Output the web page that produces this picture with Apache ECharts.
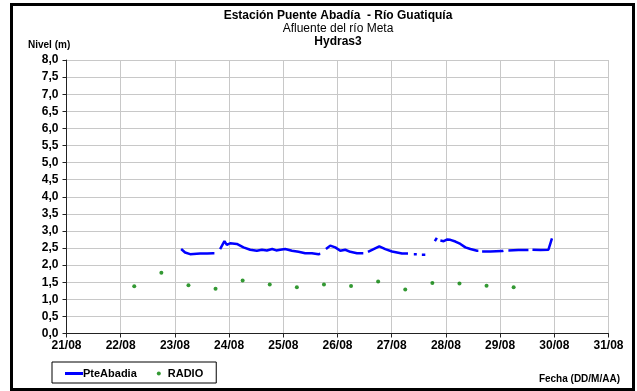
<!DOCTYPE html>
<html>
<head>
<meta charset="utf-8">
<script src="https://cdn.jsdelivr.net/npm/echarts@6/dist/echarts.min.js"></script>
<style>
  html, body { margin: 0; padding: 0; background: #fff; }
  #chart { width: 637px; height: 391px; }
</style>
</head>
<body>
<div id="chart"></div>
<script>
// fechas en dias decimales de agosto (21 = 21/08 00:00)
const xTicks = [21, 22, 23, 24, 25, 26, 27, 28, 29, 30, 31]

// PteAbadia: nivel (m), '-' = sin dato (corte de linea)
const levelDays = [
  23.115, 23.188, 23.281, 23.465, 23.595, 23.711, 23.729, 23.78,
  23.834, 23.914, 23.958, 24.019, 24.143, 24.265, 24.389, 24.512, 24.605, 24.697,
  24.795, 24.87, 24.943, 25.035, 25.159, 25.281, 25.404, 25.528, 25.650, 25.682, 25.73,
  25.787, 25.866, 25.959, 26.051, 26.143, 26.236, 26.359, 26.451, 26.476, 26.52,
  26.562, 26.666, 26.771, 26.882, 27.006, 27.098, 27.190, 27.283, 27.301, 27.35,
  27.408, 27.463, 27.51,
  27.556, 27.620, 27.70,
  27.796, 27.833, 27.86,
  27.898, 27.959, 28.027, 28.082, 28.175, 28.267, 28.359, 28.452, 28.575, 28.599, 28.63,
  28.668, 28.821, 29.037, 29.061, 29.10,
  29.153, 29.338, 29.523, 29.56,
  29.597, 29.745, 29.892, 29.920, 29.957
]
const levelValues = [
  2.47, 2.37, 2.32, 2.34, 2.34, 2.35, 2.35, '-',
  2.47, 2.70, 2.59, 2.64, 2.62, 2.52, 2.45, 2.42, 2.45, 2.43,
  2.47, 2.43, 2.45, 2.47, 2.42, 2.39, 2.35, 2.35, 2.32, 2.33, '-',
  2.47, 2.57, 2.52, 2.42, 2.45, 2.39, 2.35, 2.35, 2.35, '-',
  2.39, 2.47, 2.55, 2.47, 2.40, 2.37, 2.34, 2.34, 2.34, '-',
  2.32, 2.32, '-',
  2.30, 2.30, '-',
  2.70, 2.80, '-',
  2.72, 2.70, 2.75, 2.74, 2.69, 2.62, 2.52, 2.47, 2.42, 2.42, '-',
  2.40, 2.40, 2.41, 2.42, '-',
  2.43, 2.44, 2.44, '-',
  2.45, 2.44, 2.45, 2.45, 2.78
]

// RADIO: lecturas 06:00 y 18:00
const radioDays = [22.25, 22.75, 23.25, 23.75, 24.25, 24.75, 25.25, 25.75,
  26.25, 26.75, 27.25, 27.75, 28.25, 28.75, 29.25]
const radioValues = [1.38, 1.78, 1.41, 1.31, 1.55, 1.43, 1.35, 1.43,
  1.39, 1.52, 1.29, 1.48, 1.46, 1.40, 1.35]

const font = "'Liberation Sans', Arial, sans-serif"
const zip = (xs, ys) => xs.map((x, i) => [x, ys[i]])

const chart = echarts.init(document.getElementById('chart'))
chart.setOption({
  animation: false,
  textStyle: { fontFamily: font },
  title: [
    { text: 'Estación Puente Abadía  - Río Guatiquía', left: 333, top: 5, textAlign: 'center',
      textStyle: { fontSize: 12, fontWeight: 'bold', color: '#000', fontFamily: font } },
    { text: 'Afluente del río Meta', left: 333, top: 18, textAlign: 'center',
      textStyle: { fontSize: 12, fontWeight: 'normal', color: '#000', fontFamily: font } },
    { text: 'Hydras3', left: 333, top: 31, textAlign: 'center',
      textStyle: { fontSize: 12, fontWeight: 'bold', color: '#000', fontFamily: font } },
    { text: 'Nivel (m)', left: 23, top: 35,
      textStyle: { fontSize: 10, fontWeight: 'bold', color: '#000', fontFamily: font } },
    { text: 'Fecha (DD/M/AA)', right: 12, top: 369,
      textStyle: { fontSize: 10, fontWeight: 'bold', color: '#000', fontFamily: font } }
  ],
  graphic: [
    { type: 'rect', shape: { x: 11.5, y: 4.5, width: 622, height: 385 },
      style: { fill: 'none', stroke: '#000', lineWidth: 3 }, silent: true }
  ],
  legend: {
    left: 52, top: 362,
    orient: 'horizontal',
    padding: [6, 13, 4, 13],
    borderColor: '#000', borderWidth: 1, backgroundColor: '#fff',
    itemWidth: 18, itemHeight: 4, itemGap: 20,
    textStyle: { fontSize: 11, fontWeight: 'bold', color: '#000', fontFamily: font, padding: [0, 0, 0, -5] },
    data: [
      { name: 'PteAbadia', icon: 'path://M0,0 L18,0 L18,3 L0,3 Z' },
      { name: 'RADIO', icon: 'circle' }
    ]
  },
  grid: { left: 66.5, right: 28.5, top: 60, bottom: 57.5, containLabel: false },
  xAxis: {
    type: 'value', min: 21, max: 31, interval: 1,
    axisLine: { show: true, onZero: false, lineStyle: { color: '#222', width: 1 } },
    axisTick: { show: true, length: 4, lineStyle: { color: '#222' } },
    axisLabel: { fontSize: 12, fontWeight: 'bold', color: '#000', margin: 6,
      formatter: v => String(v) + '/08' },
    splitLine: { show: true, lineStyle: { color: '#c8c8c8', width: 1 } }
  },
  yAxis: {
    type: 'value', min: 0, max: 8, interval: 0.5,
    axisLine: { show: true, lineStyle: { color: '#222', width: 1 } },
    axisTick: { show: true, length: 4, lineStyle: { color: '#222' } },
    axisLabel: { fontSize: 12, fontWeight: 'bold', color: '#000', margin: 8,
      formatter: v => v.toFixed(1).replace('.', ',') },
    splitLine: { show: true, lineStyle: { color: '#c8c8c8', width: 1 } }
  },
  series: [
    {
      name: 'PteAbadia', type: 'line', data: zip(levelDays, levelValues),
      showSymbol: false, symbol: 'none', connectNulls: false,
      lineStyle: { color: '#0000ff', width: 2.5 }, itemStyle: { color: '#0000ff' }
    },
    {
      name: 'RADIO', type: 'scatter', data: zip(radioDays, radioValues),
      symbol: 'circle', symbolSize: 4, itemStyle: { color: '#008000' }
    }
  ]
})
</script>
</body>
</html>
